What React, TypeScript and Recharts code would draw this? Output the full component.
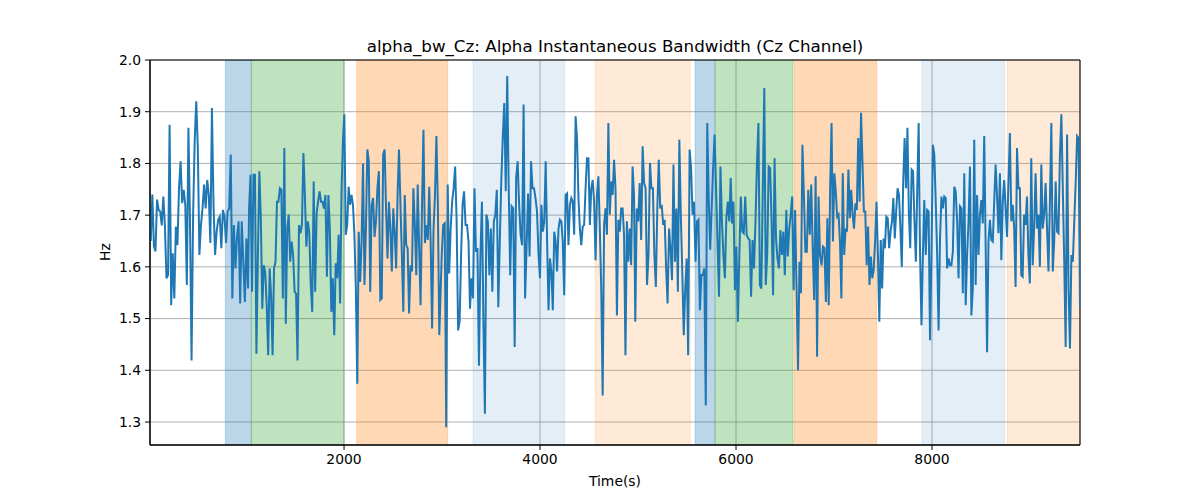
import React from "react"
import {
  LineChart, Line, XAxis, YAxis, CartesianGrid, ReferenceArea,
} from "recharts"

// alpha bandwidth readings (Hz) in ten stretches
const hz01 = [1.65, 1.74, 1.64, 1.63, 1.73, 1.71, 1.707, 1.68, 1.736, 1.68, 1.578, 1.584, 1.875, 1.526, 1.626, 1.539, 1.678, 1.642, 1.752, 1.804, 1.723, 1.749, 1.72, 1.565, 1.869, 1.688, 1.419, 1.701, 1.843, 1.92, 1.83, 1.623, 1.681, 1.713, 1.759, 1.713, 1.768, 1.739, 1.646, 1.907, 1.72, 1.623, 1.668, 1.691, 1.697, 1.636, 1.71, 1.697, 1.646, 1.707, 1.713, 1.817, 1.539, 1.681, 1.597, 1.658, 1.688, 1.529, 1.688, 1.61, 1.532, 1.655, 1.558]
const hz02 = [1.713, 1.778, 1.552, 1.778, 1.778, 1.432, 1.623, 1.785, 1.694, 1.519, 1.603, 1.59, 1.526, 1.429, 1.597, 1.545, 1.429, 1.597, 1.61, 1.726, 1.726, 1.752, 1.749, 1.539, 1.83, 1.49, 1.674, 1.701, 1.61, 1.649, 1.623, 1.552, 1.548, 1.419, 1.681, 1.665, 1.681, 1.82, 1.739, 1.639, 1.688, 1.665, 1.565, 1.513, 1.765, 1.552, 1.704, 1.726, 1.746, 1.726, 1.726, 1.713, 1.739, 1.581, 1.739, 1.674, 1.513, 1.578, 1.468, 1.607, 1.578, 1.662, 1.529, 1.752, 1.849]
const hz03 = [1.895, 1.662, 1.681, 1.755, 1.72, 1.739, 1.72, 1.662, 1.558, 1.374, 1.668, 1.571, 1.649, 1.8, 1.565, 1.674, 1.827, 1.804, 1.552, 1.72, 1.733, 1.658, 1.688, 1.752, 1.785, 1.536, 1.539, 1.817, 1.827, 1.713, 1.616, 1.726, 1.674, 1.591, 1.713, 1.668, 1.597, 1.739, 1.827, 1.72, 1.623, 1.513, 1.739, 1.642, 1.636, 1.51, 1.603, 1.591, 1.752, 1.681, 1.584, 1.759, 1.636, 1.526, 1.72, 1.865, 1.646, 1.681, 1.652, 1.755, 1.649, 1.481, 1.674, 1.739, 1.853, 1.72, 1.468]
const hz04 = [1.623, 1.681, 1.684, 1.29, 1.759, 1.587, 1.674, 1.726, 1.752, 1.794, 1.688, 1.477, 1.494, 1.623, 1.72, 1.746, 1.681, 1.681, 1.649, 1.519, 1.578, 1.539, 1.752, 1.629, 1.636, 1.409, 1.623, 1.726, 1.494, 1.316, 1.701, 1.688, 1.584, 1.674, 1.552, 1.688, 1.701, 1.749, 1.522, 1.649, 1.765, 1.849, 1.917, 1.746, 1.969, 1.752, 1.584, 1.717, 1.713, 1.445, 1.772, 1.804, 1.72, 1.662, 1.642, 1.914, 1.539, 1.636, 1.742, 1.62, 1.804, 1.752, 1.752, 1.733, 1.707]
const hz05 = [1.623, 1.578, 1.72, 1.668, 1.688, 1.804, 1.649, 1.516, 1.616, 1.591, 1.516, 1.668, 1.649, 1.591, 1.674, 1.691, 1.688, 1.649, 1.545, 1.739, 1.742, 1.642, 1.72, 1.733, 1.726, 1.662, 1.891, 1.849, 1.733, 1.674, 1.642, 1.678, 1.681, 1.752, 1.81, 1.81, 1.681, 1.752, 1.768, 1.726, 1.613, 1.739, 1.775, 1.674, 1.558, 1.351, 1.681, 1.713, 1.662, 1.878, 1.701, 1.765, 1.739, 1.807, 1.752, 1.506, 1.691, 1.668, 1.713, 1.713, 1.662, 1.429, 1.688, 1.61, 1.674, 1.603, 1.794, 1.739]
const hz06 = [1.494, 1.713, 1.688, 1.762, 1.652, 1.833, 1.762, 1.752, 1.565, 1.623, 1.801, 1.752, 1.752, 1.623, 1.561, 1.713, 1.807, 1.713, 1.72, 1.681, 1.691, 1.597, 1.529, 1.674, 1.636, 1.574, 1.798, 1.61, 1.713, 1.552, 1.846, 1.701, 1.591, 1.468, 1.558, 1.616, 1.429, 1.827, 1.791, 1.701, 1.726, 1.61, 1.688, 1.691, 1.516, 1.584, 1.584, 1.597, 1.332, 1.878, 1.733, 1.633, 1.713, 1.791, 1.856, 1.752, 1.649, 1.542, 1.794, 1.688, 1.623, 1.578, 1.694, 1.726, 1.688, 1.772]
const hz07 = [1.684, 1.726, 1.555, 1.639, 1.494, 1.623, 1.736, 1.668, 1.665, 1.736, 1.662, 1.655, 1.652, 1.542, 1.652, 1.597, 1.688, 1.798, 1.878, 1.565, 1.558, 1.752, 1.946, 1.565, 1.623, 1.794, 1.791, 1.688, 1.545, 1.81, 1.655, 1.616, 1.597, 1.671, 1.623, 1.668, 1.584, 1.71, 1.62, 1.674, 1.701, 1.736, 1.555, 1.71, 1.558, 1.4, 1.61, 1.549, 1.836, 1.739, 1.629, 1.629, 1.749, 1.662, 1.759, 1.636, 1.536, 1.775, 1.426, 1.736, 1.623, 1.603, 1.639, 1.636, 1.532, 1.694]
const hz08 = [1.526, 1.752, 1.878, 1.649, 1.781, 1.746, 1.697, 1.701, 1.649, 1.539, 1.781, 1.623, 1.674, 1.668, 1.788, 1.694, 1.749, 1.701, 1.674, 1.723, 1.71, 1.849, 1.726, 1.898, 1.804, 1.707, 1.707, 1.603, 1.678, 1.565, 1.62, 1.578, 1.594, 1.649, 1.726, 1.623, 1.494, 1.652, 1.558, 1.655, 1.636, 1.697, 1.694, 1.636, 1.668, 1.688, 1.733, 1.655, 1.707, 1.752, 1.739, 1.674, 1.6, 1.765, 1.849, 1.752, 1.869, 1.707, 1.636, 1.788, 1.785, 1.688, 1.61, 1.752, 1.878, 1.623, 1.487, 1.623, 1.729]
const hz09 = [1.623, 1.71, 1.707, 1.458, 1.623, 1.836, 1.817, 1.726, 1.623, 1.477, 1.655, 1.736, 1.713, 1.736, 1.733, 1.597, 1.616, 1.603, 1.603, 1.629, 1.755, 1.746, 1.688, 1.578, 1.717, 1.713, 1.549, 1.781, 1.526, 1.623, 1.688, 1.794, 1.506, 1.558, 1.846, 1.565, 1.739, 1.623, 1.701, 1.729, 1.684, 1.853, 1.642, 1.435, 1.649, 1.691, 1.652, 1.649, 1.726, 1.798, 1.736, 1.665, 1.781, 1.613, 1.726, 1.768, 1.713, 1.658, 1.765, 1.859, 1.688, 1.72, 1.674, 1.561, 1.83, 1.752, 1.752, 1.584]
const hz10 = [1.581, 1.701, 1.681, 1.736, 1.623, 1.568, 1.81, 1.603, 1.674, 1.781, 1.674, 1.701, 1.6, 1.798, 1.674, 1.701, 1.762, 1.674, 1.591, 1.726, 1.878, 1.591, 1.649, 1.765, 1.668, 1.665, 1.817, 1.895, 1.752, 1.61, 1.445, 1.856, 1.558, 1.442, 1.623, 1.61, 1.688, 1.765, 1.853, 1.849, 1.519]

// first and last sample time (s) of each stretch, samples evenly spaced inside
const stretchTimes = [
  [28, 1020], [1031, 1990], [2003, 2972], [2997, 3969], [3985, 4959],
  [4972, 5946], [5959, 6932], [6946, 7921], [7936, 8911], [8925, 9510],
]
const stretches = [hz01, hz02, hz03, hz04, hz05, hz06, hz07, hz08, hz09, hz10]

// shaded epochs: [start, end, kind]
const epochs: [number, number, string][] = [
  [789, 1054, "blue"], [1054, 2000, "green"], [2129, 3058, "orange"],
  [3316, 4252, "paleBlue"], [4561, 5534, "paleOrange"],
  [5582, 5786, "blue"], [5786, 6582, "green"], [6592, 7436, "orange"],
  [7895, 8742, "paleBlue"], [8765, 9510, "paleOrange"],
]

const xTicks = [2000, 4000, 6000, 8000]
const yTicks = [1.3, 1.4, 1.5, 1.6, 1.7, 1.8, 1.9, 2.0]

const epochStyle: Record<string, { color: string; alpha: number }> = {
  blue: { color: "#1f77b4", alpha: 0.3 },
  green: { color: "#2ca02c", alpha: 0.3 },
  orange: { color: "#ff7f0e", alpha: 0.3 },
  paleBlue: { color: "#1f77b4", alpha: 0.12 },
  paleOrange: { color: "#ff7f0e", alpha: 0.16 },
}

const data = stretches.flatMap((vals, k) => {
  const [a, b] = stretchTimes[k]
  return vals.map((hz, i) => ({ t: a + ((b - a) * i) / (vals.length - 1), hz }))
})

const X_DOMAIN = [20, 9510]
const Y_DOMAIN = [1.2555, 2.0]
const font = "'DejaVu Sans', sans-serif"
const tick = { fontSize: 13.9, fill: "#000", fontFamily: font }

export default function App() {
  return (
    <div style={{ position: "absolute", left: 0, top: 0, width: 1200, height: 500, background: "#fff", fontFamily: font }}>
      <div style={{ position: "absolute", left: 150, top: 36, width: 930, textAlign: "center", fontSize: 16.7, lineHeight: "20px" }}>
        alpha_bw_Cz: Alpha Instantaneous Bandwidth (Cz Channel)
      </div>
      <LineChart width={1200} height={500} data={data} margin={{ top: 60, right: 120, bottom: 15, left: 90 }}>
        <CartesianGrid stroke="#b0b0b0" strokeWidth={1} />
        {epochs.map(([x1, x2, kind], i) => (
          <ReferenceArea
            key={i}
            x1={x1}
            x2={x2}
            fill={epochStyle[kind].color}
            fillOpacity={epochStyle[kind].alpha}
            stroke={epochStyle[kind].color}
            strokeOpacity={epochStyle[kind].alpha * 0.8}
            ifOverflow="hidden"
          />
        ))}
        <XAxis
          dataKey="t"
          type="number"
          domain={X_DOMAIN}
          ticks={xTicks}
          allowDataOverflow
          height={40}
          tick={tick}
          tickSize={5}
          tickMargin={4}
          stroke="#000"
        />
        <YAxis
          type="number"
          domain={Y_DOMAIN}
          ticks={yTicks}
          allowDataOverflow
          width={60}
          tick={tick}
          tickSize={5}
          tickMargin={4}
          tickFormatter={(v) => v.toFixed(1)}
          stroke="#000"
        />
        <Line
          type="linear"
          dataKey="hz"
          stroke="#1f77b4"
          strokeWidth={2}
          dot={false}
          isAnimationActive={false}
        />
        {/* axes frame */}
        <ReferenceArea x1={X_DOMAIN[0]} x2={X_DOMAIN[1]} y1={Y_DOMAIN[0]} y2={Y_DOMAIN[1]} fill="none" stroke="#000" strokeWidth={1} />
      </LineChart>
      <div style={{ position: "absolute", left: 150, top: 472, width: 930, textAlign: "center", fontSize: 13.9, lineHeight: "18px" }}>
        Time(s)
      </div>
      <div style={{ position: "absolute", left: 105, top: 252, fontSize: 13.9, lineHeight: "18px", transform: "translate(-50%, -50%) rotate(-90deg)" }}>
        Hz
      </div>
    </div>
  )
}
